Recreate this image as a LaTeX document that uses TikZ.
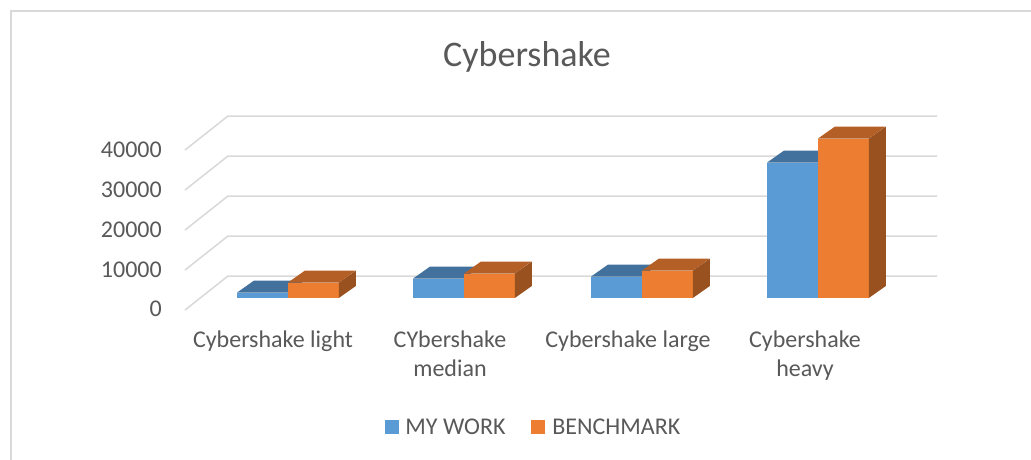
\documentclass[tikz,border=0pt]{standalone}
\usepackage{fontspec}
\setmainfont{Carlito}
\usepackage{xcolor}
\usepackage{tikz}
\usetikzlibrary{positioning}
\definecolor{mywork}{HTML}{5B9BD5}
\definecolor{myworktop}{HTML}{41719C}
\definecolor{bench}{HTML}{ED7D31}
\definecolor{benchtop}{HTML}{B45F25}
\definecolor{benchside}{HTML}{9A5120}
\definecolor{gridgray}{HTML}{D9D9D9}
\definecolor{textgray}{HTML}{595959}

\begin{document}
\begin{tikzpicture}[
  x=1pt, y=-1pt,
  font=\fontsize{24}{29}\selectfont, text=textgray,
  gridline/.style={draw=gridgray, line width=1.5pt},
  ytick/.style={anchor=east, inner sep=0pt},
  catlabel/.style={anchor=north, align=center, inner sep=0pt},
  barmy/.style={fill=mywork, inner sep=0pt, minimum width=50.5pt, anchor=south west},
  barbench/.style={fill=bench, inner sep=0pt, minimum width=50.5pt, anchor=south west},
  topmy/.style={fill=myworktop},
  topbench/.style={fill=benchtop},
  sidebench/.style={fill=benchside},
  legendkey/.style={minimum size=14pt, inner sep=0pt},
  legendtext/.style={anchor=west, inner sep=0pt, font=\fontsize{24}{29}\selectfont}
]
\useasboundingbox (0,0) rectangle (1031,459);
\fill[white] (0,0) rectangle (1031,459);
\draw[draw=gridgray, line width=1.2pt] (11,470) -- (11,11) -- (1045,11);

\node[font=\fontsize{36}{43}\selectfont, anchor=base] (title) at (527,66) {Cybershake};

\draw[gridline] (185,310) -- (228,276) -- (937,276);
\draw[gridline] (185,270) -- (228,236) -- (937,236);
\draw[gridline] (185,230) -- (228,196) -- (937,196);
\draw[gridline] (185,190) -- (228,156) -- (937,156);
\draw[gridline] (185,150) -- (228,116) -- (937,116);

\node[ytick] (y0) at (162,309) {0};
\node[ytick] (y10) at (162,270) {10000};
\node[ytick] (y20) at (162,230) {20000};
\node[ytick] (y30) at (162,190) {30000};
\node[ytick] (y40) at (162,150) {40000};

\node[barmy, minimum height=5pt] (light1) at (237,298) {};
\fill[topmy] (light1.north west) -- ++(17,-12) -- ++(50.5,0) -- (light1.north east) -- cycle;
\node[barbench, minimum height=15pt] (light2) at (light1.south east) {};
\fill[topbench] (light2.north west) -- ++(17,-12) -- ++(50.5,0) -- (light2.north east) -- cycle;
\fill[sidebench] (light2.south east) -- (light2.north east) -- ++(17,-12) -- ([shift={(17,-12)}]light2.south east) -- cycle;

\node[barmy, minimum height=19pt] (median1) at (413,298) {};
\fill[topmy] (median1.north west) -- ++(17,-12) -- ++(50.5,0) -- (median1.north east) -- cycle;
\node[barbench, minimum height=24pt] (median2) at (median1.south east) {};
\fill[topbench] (median2.north west) -- ++(17,-12) -- ++(50.5,0) -- (median2.north east) -- cycle;
\fill[sidebench] (median2.south east) -- (median2.north east) -- ++(17,-12) -- ([shift={(17,-12)}]median2.south east) -- cycle;

\node[barmy, minimum height=21pt] (large1) at (591,298) {};
\fill[topmy] (large1.north west) -- ++(17,-12) -- ++(50.5,0) -- (large1.north east) -- cycle;
\node[barbench, minimum height=27pt] (large2) at (large1.south east) {};
\fill[topbench] (large2.north west) -- ++(17,-12) -- ++(50.5,0) -- (large2.north east) -- cycle;
\fill[sidebench] (large2.south east) -- (large2.north east) -- ++(17,-12) -- ([shift={(17,-12)}]large2.south east) -- cycle;

\node[barmy, minimum height=135pt] (heavy1) at (767,298) {};
\fill[topmy] (heavy1.north west) -- ++(17,-12) -- ++(50.5,0) -- (heavy1.north east) -- cycle;
\node[barbench, minimum height=159pt] (heavy2) at (heavy1.south east) {};
\fill[topbench] (heavy2.north west) -- ++(17,-12) -- ++(50.5,0) -- (heavy2.north east) -- cycle;
\fill[sidebench] (heavy2.south east) -- (heavy2.north east) -- ++(17,-12) -- ([shift={(17,-12)}]heavy2.south east) -- cycle;

\node[catlabel] (cat1) at (273,331) {Cybershake light};
\node[catlabel] (cat2) at (450,331) {CYbershake\\median};
\node[catlabel] (cat3) at (628,331) {Cybershake large};
\node[catlabel] (cat4) at (805,331) {Cybershake\\heavy};

\node[legendkey, fill=mywork] (keymy) at (392,427) {};
\node[legendtext, right=6pt of keymy] (labmy) {MY WORK};
\node[legendkey, fill=bench] (keybench) at (538,427) {};
\node[legendtext, right=7pt of keybench] (labbench) {BENCHMARK};
\end{tikzpicture}
\end{document}
